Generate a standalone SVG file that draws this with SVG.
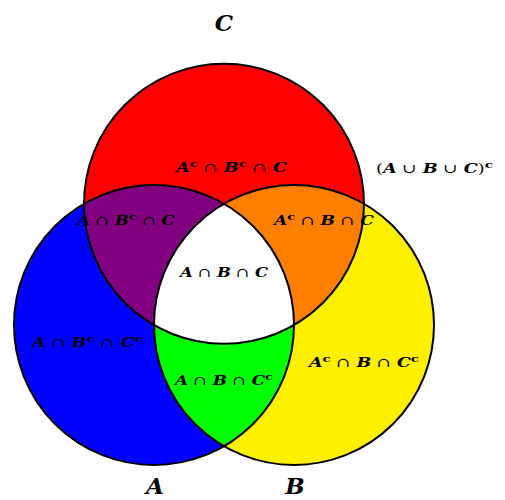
<svg xmlns="http://www.w3.org/2000/svg" width="505" height="500" viewBox="0 0 505 500">
<style>
.outline{fill:none;stroke:#000;stroke-width:2}
.lbl{font-family:"DejaVu Serif","Liberation Serif",serif;font-size:13px;font-weight:bold;font-style:italic;fill:#000;text-anchor:middle}
.op{font-weight:normal;font-style:normal}
.sup{font-size:10px;font-style:normal}
.big{font-family:"DejaVu Serif","Liberation Serif",serif;font-size:23px;font-weight:bold;font-style:italic;fill:#000;text-anchor:middle}
</style>
<defs>
<clipPath id="clipA"><circle cx="154" cy="325" r="140"/></clipPath>
<clipPath id="clipB"><circle cx="294" cy="325" r="140"/></clipPath>
<clipPath id="clipC"><circle cx="224" cy="203.8" r="140"/></clipPath>
</defs>
<rect width="505" height="500" fill="#fff"/>
<g id="regions">
<circle id="fillA" cx="154" cy="325" r="140" fill="#0000ff"/>
<circle id="fillB" cx="294" cy="325" r="140" fill="#fff000"/>
<circle id="fillC" cx="224" cy="203.8" r="140" fill="#ff0000"/>
<circle id="fillAC" cx="224" cy="203.8" r="140" fill="#800080" clip-path="url(#clipA)"/>
<circle id="fillBC" cx="224" cy="203.8" r="140" fill="#ff8000" clip-path="url(#clipB)"/>
<circle id="fillAB" cx="294" cy="325" r="140" fill="#00ff00" clip-path="url(#clipA)"/>
<g clip-path="url(#clipB)"><circle id="fillABC" cx="224" cy="203.8" r="140" fill="#ffffff" clip-path="url(#clipA)"/></g>
</g>
<g id="setA">
<circle class="outline" cx="154" cy="325" r="140"/>
<text class="big" x="155" y="494">A</text>
</g>
<g id="setB">
<circle class="outline" cx="294" cy="325" r="140"/>
<text class="big" x="295" y="494">B</text>
</g>
<g id="setC">
<circle class="outline" cx="224" cy="203.8" r="140"/>
<text class="big" x="224" y="31">C</text>
</g>
<g id="labels">
<text class="lbl" x="231.5" y="172" textLength="111" lengthAdjust="spacingAndGlyphs">A<tspan class="sup" dy="-5">c</tspan><tspan class="op" dy="5"> ∩ </tspan>B<tspan class="sup" dy="-5">c</tspan><tspan class="op" dy="5"> ∩ </tspan>C</text>
<text class="lbl" x="434.5" y="173" textLength="117" lengthAdjust="spacingAndGlyphs"><tspan class="op">(</tspan>A<tspan class="op"> ∪ </tspan>B<tspan class="op"> ∪ </tspan>C<tspan class="op">)</tspan><tspan class="sup" dy="-5">c</tspan></text>
<text class="lbl" x="126" y="225" textLength="98" lengthAdjust="spacingAndGlyphs">A<tspan class="op"> ∩ </tspan>B<tspan class="sup" dy="-5">c</tspan><tspan class="op" dy="5"> ∩ </tspan>C</text>
<text class="lbl" x="324" y="225" textLength="100" lengthAdjust="spacingAndGlyphs">A<tspan class="sup" dy="-5">c</tspan><tspan class="op" dy="5"> ∩ </tspan>B<tspan class="op"> ∩ </tspan>C</text>
<text class="lbl" x="224" y="277" textLength="88" lengthAdjust="spacingAndGlyphs">A<tspan class="op"> ∩ </tspan>B<tspan class="op"> ∩ </tspan>C</text>
<text class="lbl" x="224" y="385" textLength="98" lengthAdjust="spacingAndGlyphs">A<tspan class="op"> ∩ </tspan>B<tspan class="op"> ∩ </tspan>C<tspan class="sup" dy="-5">c</tspan></text>
<text class="lbl" x="87.5" y="347" textLength="111" lengthAdjust="spacingAndGlyphs">A<tspan class="op"> ∩ </tspan>B<tspan class="sup" dy="-5">c</tspan><tspan class="op" dy="5"> ∩ </tspan>C<tspan class="sup" dy="-5">c</tspan></text>
<text class="lbl" x="364" y="367" textLength="110" lengthAdjust="spacingAndGlyphs">A<tspan class="sup" dy="-5">c</tspan><tspan class="op" dy="5"> ∩ </tspan>B<tspan class="op"> ∩ </tspan>C<tspan class="sup" dy="-5">c</tspan></text>
</g>
<g id="connectors"/>
</svg>
